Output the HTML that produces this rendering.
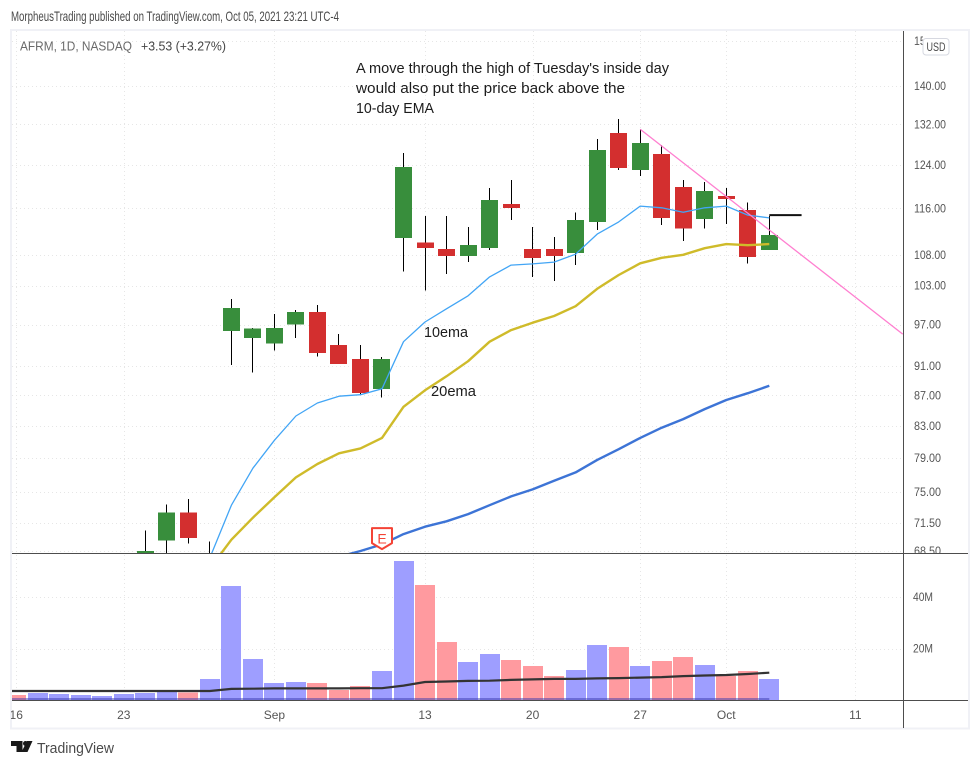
<!DOCTYPE html>
<html lang="en">
<head>
<meta charset="utf-8">
<title>AFRM daily chart</title>
<style>
html,body{margin:0;padding:0;background:#fff;width:980px;height:767px;overflow:hidden}
svg{display:block;font-family:"Liberation Sans",sans-serif}
</style>
</head>
<body>
<svg id="chart" xmlns="http://www.w3.org/2000/svg" width="980" height="767" viewBox="0 0 980 767">
  <defs>
    <clipPath id="price-clip"><rect x="12" y="31" width="891" height="522"/></clipPath>
    <clipPath id="vol-clip"><rect x="12" y="554" width="891" height="146"/></clipPath>
    <clipPath id="axis-clip"><rect x="904" y="31" width="64" height="522"/></clipPath>
    <clipPath id="time-clip"><rect x="11" y="701" width="892" height="26"/></clipPath>
  </defs>
  <rect x="0" y="0" width="980" height="767" fill="#ffffff"/>
  <text x="11" y="21" font-size="14" fill="#4a4a4a" textLength="328" lengthAdjust="spacingAndGlyphs">MorpheusTrading published on TradingView.com, Oct 05, 2021 23:21 UTC-4</text>
  <rect x="11" y="30" width="958" height="698.5" fill="none" stroke="#f0f1f6" stroke-width="2"/>
  <g id="grid"></g>
  <g id="price-pane" clip-path="url(#price-clip)"></g>
  <g id="vol-pane" clip-path="url(#vol-clip)"></g>
  <line x1="903.5" y1="31" x2="903.5" y2="728" stroke="#4d4d4d" stroke-width="1"/>
  <line x1="12" y1="553.5" x2="968" y2="553.5" stroke="#4d4d4d" stroke-width="1"/>
  <line x1="12" y1="700.5" x2="968" y2="700.5" stroke="#4d4d4d" stroke-width="1"/>
  <g id="price-axis" clip-path="url(#axis-clip)"></g>
  <g id="vol-axis"></g>
  <g id="time-axis" clip-path="url(#time-clip)"></g>
  <g>
    <rect x="923" y="31" width="45" height="24" fill="#ffffff"/>
    <rect x="923" y="38.5" width="26" height="16.5" rx="3" fill="#ffffff" stroke="#d6d8e0"/>
    <text x="936" y="51" font-size="12" fill="#4a4a4a" text-anchor="middle" textLength="19" lengthAdjust="spacingAndGlyphs">USD</text>
  </g>
  <text x="20" y="50.5" font-size="13" fill="#6a6a6a" textLength="112" lengthAdjust="spacingAndGlyphs">AFRM, 1D, NASDAQ</text>
  <text x="141" y="50.5" font-size="13" fill="#444444" textLength="85" lengthAdjust="spacingAndGlyphs">+3.53 (+3.27%)</text>
  <text x="356" y="73" font-size="15" fill="#1c1c1c" textLength="313" lengthAdjust="spacingAndGlyphs">A move through the high of Tuesday's inside day</text>
  <text x="356" y="93" font-size="15" fill="#1c1c1c" textLength="269" lengthAdjust="spacingAndGlyphs">would also put the price back above the</text>
  <text x="356" y="113" font-size="15" fill="#1c1c1c" textLength="78" lengthAdjust="spacingAndGlyphs">10-day EMA</text>
  <text x="424" y="337" font-size="15" fill="#1c1c1c" textLength="44" lengthAdjust="spacingAndGlyphs">10ema</text>
  <text x="431" y="396" font-size="15" fill="#1c1c1c" textLength="45" lengthAdjust="spacingAndGlyphs">20ema</text>
  <g>
    <path d="M11 741H22.5V752H16.5V746H11ZM21.5 752L27 741H32.5L27.5 752Z" fill="#1a1a1a"/>
    <circle cx="25.5" cy="743.5" r="2.5" fill="#1a1a1a"/>
    <text x="37" y="753" font-size="15" fill="#4a4a4a" textLength="77" lengthAdjust="spacingAndGlyphs">TradingView</text>
  </g>
</svg>
<script>
// Daily bars, Aug 16 to Oct 5 2021 (price in USD); null = candle below the visible price range
const opens  = [null,null,null,null,null,null,68.1,69.6,72.7,null,96.1,95.0,94.2,97.0,98.9,94.0,92.0,87.9,110.8,110.1,109.0,107.8,109.1,116.8,109.0,109.0,108.3,113.6,130.2,123.0,126.1,119.9,114.1,118.2,115.7,108.8];
const closes = [null,null,null,null,null,null,68.5,72.7,69.9,null,99.5,96.4,96.5,98.9,92.9,91.3,87.3,92.0,123.6,109.1,107.8,109.6,117.5,116.1,107.5,107.8,113.9,126.9,123.4,128.3,114.3,112.5,119.1,117.7,107.6,111.3];
const highs  = [null,null,null,null,null,null,70.7,73.6,74.2,69.5,100.9,96.5,98.6,99.2,100.0,95.6,94.0,92.3,126.3,114.6,114.6,112.7,119.7,121.2,112.7,111.0,115.3,129.0,133.1,131.0,127.9,121.2,120.8,119.7,117.0,114.6];
const lows   = [null,null,null,null,null,null,67.5,67.5,69.3,66.5,91.2,90.1,93.2,95.0,92.4,91.3,87.1,86.7,105.3,102.2,104.9,106.8,108.8,113.9,104.4,103.7,106.3,112.2,123.0,121.9,113.1,110.3,112.5,113.2,106.6,108.8];
const volumesM = [1.9,2.8,2.3,1.9,1.6,2.3,2.8,3.9,3.0,8.2,44.3,15.9,6.6,7.0,6.6,3.9,5.4,11.3,54.0,44.7,22.5,14.8,17.9,15.5,13.2,9.3,11.7,21.4,20.6,13.2,15.1,16.7,13.6,9.3,11.3,8.2];
const volumeUp = [0,1,1,1,1,1,1,1,0,1,1,1,1,1,0,0,0,1,1,0,0,1,1,0,0,0,1,1,0,1,0,0,1,0,0,1];
const volumeMA = [3.5,3.5,3.5,3.5,3.5,3.5,3.5,3.5,3.5,3.5,4.3,4.4,4.5,4.5,4.5,4.5,4.6,4.6,5.6,7.0,7.2,7.4,7.5,7.8,8.0,8.2,8.2,8.4,8.5,8.7,8.9,9.3,9.5,9.7,10.1,10.6];
const ema10 = [null,null,null,null,null,null,null,null,null,67.8,73.5,77.8,81.2,84.3,86.0,86.9,87.1,87.9,94.5,97.4,99.4,101.4,104.4,106.3,106.5,106.8,108.1,111.5,113.6,116.4,116.1,115.3,116.1,116.4,114.8,114.3];
const ema20 = [null,null,null,null,null,null,null,null,null,66.7,69.7,72.1,74.4,76.7,78.3,79.6,80.2,81.5,85.5,87.7,89.6,91.7,94.5,96.2,97.3,98.3,99.8,102.5,104.7,106.6,107.5,108.0,109.1,109.8,109.6,109.8];
const ema50 = [null,null,null,null,null,null,null,null,null,null,null,null,null,null,null,67.9,68.5,69.2,70.3,71.1,71.7,72.5,73.5,74.5,75.3,76.3,77.3,78.8,80.1,81.5,82.8,83.9,85.2,86.4,87.3,88.3];
const priceTicks = [150,140,132,124,116,108,103,97,91,87,83,79,75,71.5,68.5];
const volumeTicks = [40,20];
const timeTickIndex = [0,5,12,19,24,29,33,39];
const timeTickLabels = ["16","23","Sep","13","20","27","Oct","11"];
const trendIndex = [29,41.2];
const trendPrice = [131.0,95.6];
const lastIndex = [35,36.5];
const lastPrice = [114.8,114.8];
const earningsIndex = 17;
const earningsPrice = 68.8;

const SVGNS = 'http://www.w3.org/2000/svg';
const x = i => 769.3 - (35 - i) * 21.517;
const y = p => 86 + 650.5 * Math.log(140 / p);
const vy = m => 700 - 2.575 * m;
const make = (tag, parent, props) => {
  const el = document.createElementNS(SVGNS, tag);
  for (const k in props) el.setAttribute(k, props[k]);
  parent.appendChild(el);
  return el;
};
const gridG = document.getElementById('grid');
const priceG = document.getElementById('price-pane');
const volG = document.getElementById('vol-pane');
const priceAxisG = document.getElementById('price-axis');
const volAxisG = document.getElementById('vol-axis');
const timeAxisG = document.getElementById('time-axis');
const gridStyle = {stroke:'#e6e6e6','stroke-width':1,'stroke-dasharray':'1 3'};
const axisText = '#555555';

priceTicks.forEach(p => {
  const yy = Math.round(y(p)) + 0.5;
  const line = make('line', gridG, {x1:12,x2:903,y1:yy,y2:yy,...gridStyle});
  
  
  const label = make('text', priceAxisG, {x:914,y:y(p)+4,'font-size':12,fill:axisText,textLength:p>=100?32:27,lengthAdjust:'spacingAndGlyphs'});
  label.textContent = p.toFixed(2);
  
  
});
volumeTicks.forEach(m => {
  const yy = Math.round(vy(m)) + 0.5;
  const line = make('line', gridG, {x1:12,x2:903,y1:yy,y2:yy,...gridStyle});
  
  
  const label = make('text', volAxisG, {x:913,y:vy(m)+4,'font-size':12,fill:axisText,textLength:20,lengthAdjust:'spacingAndGlyphs'});
  label.textContent = m + 'M';
  
  
});
timeTickIndex.forEach((idx, n) => {
  const xx = Math.round(x(idx)) + 0.5;
  const line = make('line', gridG, {x1:xx,x2:xx,y1:31,y2:700,...gridStyle});
  
  
  const label = make('text', timeAxisG, {x:x(idx),y:719,'font-size':12,fill:axisText,'text-anchor':'middle'});
  label.textContent = timeTickLabels[n];
  
  
});

volumesM.forEach((m, i) => {
  const top = vy(m);
  const bar = make('rect', volG, {x:Math.round(x(i))-10,y:top,width:20,height:700-top,fill:volumeUp[i]?'#9e9eff':'#ff9a9f','shape-rendering':'crispEdges'});
  
  
});
const baseLine = make('line', volG, {x1:12,x2:x(35),y1:699,y2:699,stroke:'#3a3ab0','stroke-opacity':0.5,'stroke-width':2});



const linePath = (values, ys) => {
  let d = '';
  values.forEach((v, i) => {
    if (v === null) return;
    d += (d ? 'L' : 'M') + x(i).toFixed(1) + ' ' + ys(v).toFixed(1);
  });
  return d;
};
const vmaD = 'M12 ' + vy(volumeMA[0]).toFixed(1) + linePath(volumeMA, vy).replace('M', 'L');
const vmaLine = make('path', volG, {d:vmaD,fill:'none',stroke:'#333333','stroke-width':2.2});



opens.forEach((o, i) => {
  if (highs[i] === null) return;
  const cx = Math.floor(x(i));
  const wick = make('rect', priceG, {x:cx,y:y(highs[i]),width:1,height:y(lows[i])-y(highs[i]),fill:'#000000','shape-rendering':'crispEdges'});
  
  
  if (o === null) return;
  const c = closes[i];
  const top = y(Math.max(o, c));
  const bottom = y(Math.min(o, c));
  const body = make('rect', priceG, {x:cx-8,y:top,width:17,height:bottom-top,fill:c>=o?'#388e3c':'#d32f2f','shape-rendering':'crispEdges'});
  
  
});

const e50 = make('path', priceG, {d:linePath(ema50, y),fill:'none',stroke:'#3d74d6','stroke-width':2.4,'stroke-linejoin':'round'});


const e20 = make('path', priceG, {d:linePath(ema20, y),fill:'none',stroke:'#cfbb2a','stroke-width':2.4,'stroke-linejoin':'round'});


const e10 = make('path', priceG, {d:linePath(ema10, y),fill:'none',stroke:'#42a5f5','stroke-width':1.3,'stroke-linejoin':'round'});



const trend = make('line', priceG, {x1:x(trendIndex[0]),y1:y(trendPrice[0]),x2:x(trendIndex[1]),y2:y(trendPrice[1]),stroke:'#ff7fd0','stroke-width':1.3});


const last = make('line', priceG, {x1:x(lastIndex[0]),y1:y(lastPrice[0]),x2:x(lastIndex[1]),y2:y(lastPrice[1]),stroke:'#111111','stroke-width':2});



const ex = x(earningsIndex);
const ey = y(earningsPrice);
const flag = make('path', priceG, {d:`M${ex-10} ${ey-20}H${ex+10}V${ey-5}L${ex} ${ey+1}L${ex-10} ${ey-5}Z`,fill:'#ffffff',stroke:'#f44336','stroke-width':2,'stroke-linejoin':'round'});


const flagText = make('text', priceG, {x:ex,y:ey-4.5,'font-size':14,fill:'#f44336','text-anchor':'middle'});
flagText.textContent = 'E';


</script>
</body>
</html>
